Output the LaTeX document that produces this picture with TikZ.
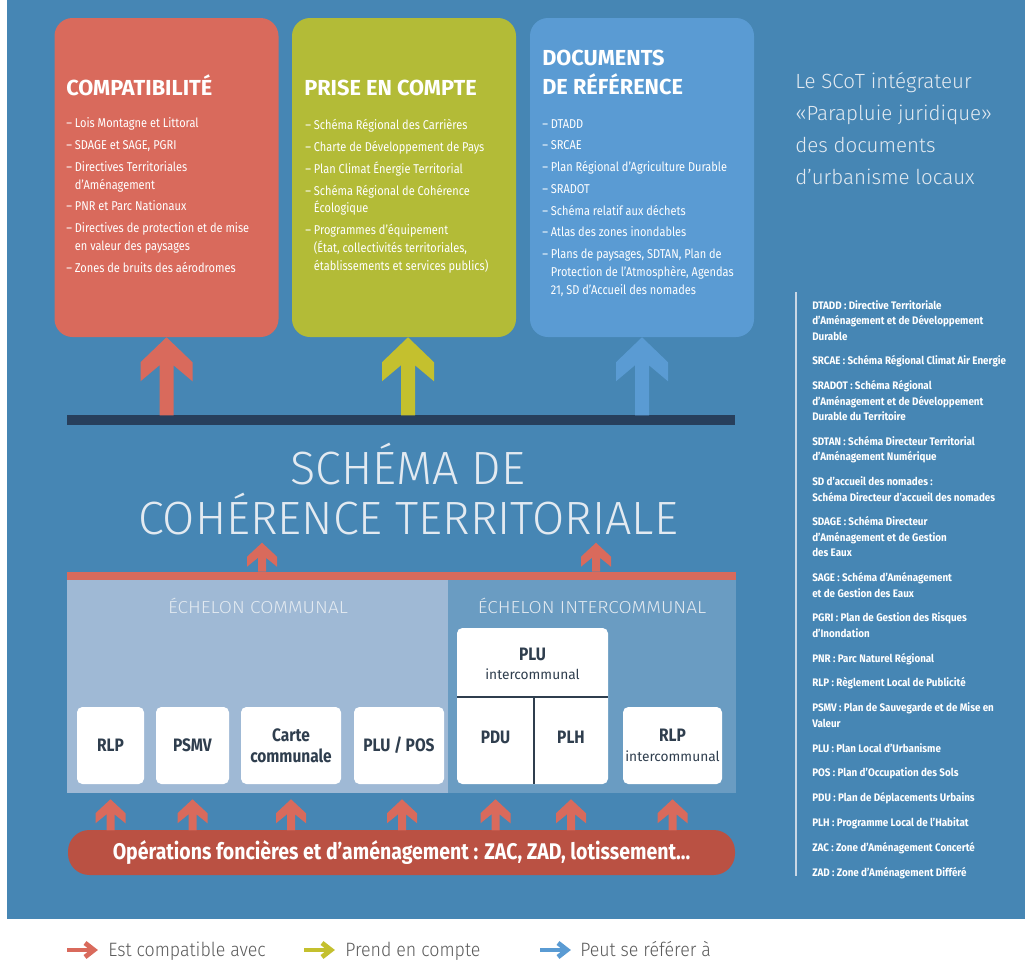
\documentclass[tikz,border=0pt]{standalone}
\usepackage{fontspec}
\setmainfont{Fira Sans}
\newfontfamily\cnd[FakeStretch=0.86]{Fira Sans}
\newfontfamily\glo[FakeStretch=0.9]{Fira Sans}
\newfontfamily\lgt{Fira Sans Light}
\newfontfamily\lgtw[FakeStretch=1.1]{Fira Sans Light}
\newfontfamily\legf[FakeStretch=0.92]{Fira Sans Light}
\newcommand\subtxt{\normalfont\fontsize{10.3pt}{12pt}\selectfont}
\usetikzlibrary{calc}
\definecolor{bgc}{HTML}{4686B4}
\definecolor{redc}{HTML}{D96A5C}
\definecolor{greenc}{HTML}{B3BB37}
\definecolor{bluec}{HTML}{5A9BD3}
\definecolor{garrow}{HTML}{C4C02E}
\definecolor{barc}{HTML}{273F5C}
\definecolor{comc}{HTML}{9FB9D5}
\definecolor{intc}{HTML}{6A9CC2}
\definecolor{opsc}{HTML}{BA5143}
\definecolor{labc}{HTML}{2F3E4E}
\definecolor{palec}{HTML}{E3EAF1}
\definecolor{legc}{HTML}{5A5A5A}
\definecolor{linec}{HTML}{C9D7E5}
\def\pxu{0.75pt}
\tikzset{
  topbox/.style={fill=#1, rounded corners=13.5pt, inner sep=0pt, minimum width=224*\pxu, minimum height=319*\pxu},
  ttl/.style={anchor=base west, text=white, font=\bfseries\fontsize{16.3pt}{21.75pt}\selectfont, inner sep=0pt, align=left},
  bul/.style={anchor=base west, text=white, font=\cnd\fontsize{9.6pt}{13.3pt}\selectfont, inner sep=0pt, align=left},
  band/.style={inner sep=0pt, minimum height=#1*\pxu},
  ech/.style={anchor=base, text=palec, font=\lgtw\fontsize{13pt}{15pt}\selectfont, inner sep=0pt},
  wbox/.style={fill=white, rounded corners=4pt, inner sep=0pt, minimum height=77*\pxu, minimum width=#1*\pxu, text=labc, align=center, font=\cnd\bfseries\fontsize{13.5pt}{15.75pt}\selectfont},
  wlab/.style={text=labc, align=center, inner sep=0pt, font=\cnd\bfseries\fontsize{13.5pt}{15.75pt}\selectfont},
  divline/.style={draw=labc, line width=0.9pt},
  leg/.style={anchor=base west, text=legc, font=\legf\fontsize{14.5pt}{16pt}\selectfont, inner sep=0pt},
  pics/bigarr/.style={code={\fill[pic actions] (0,0) -- (-26,25) -- (-26,44) -- (-7,28) -- (-7,#1) -- (7,#1) -- (7,28) -- (26,44) -- (26,25) -- cycle;}},
  pics/smallarr/.style={code={\fill[pic actions] (0,0) -- (-15,14) -- (-15,24) -- (-4,15) -- (-4,#1) -- (4,#1) -- (4,15) -- (15,24) -- (15,14) -- cycle;}},
  pics/legarr/.style={code={\draw[pic actions, line width=3.6pt] (0,0) -- (27,0); \draw[pic actions, line width=3.6pt, miter limit=10] (18,-7) -- (27,0) -- (18,7);}},
}
\begin{document}
\begin{tikzpicture}[x=0.75pt,y=-0.75pt]
\useasboundingbox (0,0) rectangle (1025,960);
\fill[white] (0,0) rectangle (1025,960);
\fill[bgc] (7,0) rectangle (1025,919);

% ---- top boxes
\node[topbox=redc] (comp) at (166.5,177.5) {};
\node[topbox=greenc] (prise) at (404,177.5) {};
\node[topbox=bluec] (docs) at (642,177.5) {};

\node[ttl] (compT) at (66,95) {COMPATIBILITÉ};
\node[bul] (compL) at (66,272) {– Lois Montagne et Littoral\\[3pt]
– SDAGE et SAGE, PGRI\\[3pt]
– Directives Territoriales\\
\hphantom{–}\ d’Aménagement\\[3pt]
– PNR et Parc Nationaux\\[3pt]
– Directives de protection et de mise\\
\hphantom{–}\ en valeur des paysages\\[3pt]
– Zones de bruits des aérodromes};

\node[ttl] (priseT) at (304,95) {PRISE EN COMPTE};
\node[bul] (priseL) at (305,270) {– Schéma Régional des Carrières\\[3pt]
– Charte de Développement de Pays\\[3pt]
– Plan Climat Énergie Territorial\\[3pt]
– Schéma Régional de Cohérence\\
\hphantom{–}\ Écologique\\[3pt]
– Programmes d’équipement\\
\hphantom{–}\ (État, collectivités territoriales,\\
\hphantom{–}\ établissements et services publics)};

\node[ttl] (docsT) at (542,94) {DOCUMENTS\\DE RÉFÉRENCE};
\node[bul] (docsL) at (542,294) {– DTADD\\[3pt]
– SRCAE\\[3pt]
– Plan Régional d’Agriculture Durable\\[3pt]
– SRADOT\\[3pt]
– Schéma relatif aux déchets\\[3pt]
– Atlas des zones inondables\\[3pt]
– Plans de paysages, SDTAN, Plan de\\
\hphantom{–}\ Protection de l’Atmosphère, Agendas\\
\hphantom{–}\ 21, SD d’Accueil des nomades};

% ---- dark bar and arrows to the boxes
\node[band=10, fill=barc, minimum width=668*\pxu] (bar) at (401,420) {};
\pic[fill=redc] at (comp.south) {bigarr=78};
\pic[fill=garrow] at ($(prise.south)+(4,0)$) {bigarr=78};
\pic[fill=bluec] at (docs.south) {bigarr=78};

% ---- SCoT title
\node[text=palec, align=center, inner sep=0pt, font=\lgt\fontsize{35pt}{37.5pt}\selectfont] (scot) at (408,489) {SCHÉMA DE\\COHÉRENCE TERRITORIALE};

% ---- echelons
\node[band=8, fill=redc, minimum width=669*\pxu] (rbar) at (401.5,576) {};
\node[band=213, fill=comc, minimum width=381*\pxu] (com) at (257.5,686.5) {};
\node[band=213, fill=intc, minimum width=288*\pxu] (inter) at (592,686.5) {};
\pic[fill=redc] at ($(rbar.north)+(-139.5,-29)$) {smallarr=29};
\pic[fill=redc] at ($(rbar.north)+(194.5,-29)$) {smallarr=29};
\node[ech] (comT) at (258,613) {ÉCHELON COMMUNAL};
\node[ech] (interT) at (592,613) {ÉCHELON INTERCOMMUNAL};

\node[wbox=67] (rlp) at (110.5,745.5) {RLP};
\node[wbox=73] (psmv) at (192.5,745.5) {PSMV};
\node[wbox=100] (carte) at (291,745.5) {Carte\\communale};
\node[wbox=90] (plupos) at (399,745.5) {PLU / POS};
\node[wbox=151, minimum height=156*\pxu] (plugrp) at (532.5,706) {};
\node[wlab] (plui) at (532.5,664) {PLU\\[-1pt]{\subtxt intercommunal}};
\node[wlab] (pdu) at (495.5,737) {PDU};
\node[wlab] (plh) at (571,737) {PLH};
\coordinate (hl) at (457,697);
\coordinate (hr) at (608,697);
\coordinate (vt) at (534,697);
\coordinate (vb) at (534,784);
\draw[divline] (hl) -- (hr);
\draw[divline] (vt) -- (vb);
\node[wbox=99] (rlpi) at (672.5,745.5) {RLP\\[-1pt]{\subtxt intercommunal}};

% ---- operations
\node[fill=opsc, rounded corners=16pt, minimum width=667*\pxu, minimum height=45*\pxu, inner sep=0pt, text=white, font=\cnd\bfseries\fontsize{17pt}{18pt}\selectfont] (ops) at (401.5,852.5) {Opérations foncières et d’aménagement : ZAC, ZAD, lotissement...};
\foreach \b in {rlp,psmv,carte,pdu,plh,rlpi}{
  \pic[fill=redc] at ($(\b.south |- com.south)+(0,6)$) {smallarr=31};
}
\pic[fill=redc] at ($(plupos.south |- com.south)+(3,6)$) {smallarr=31};

% ---- right text
\node[anchor=base west, text=palec, align=left, inner sep=0pt, font=\lgt\fontsize{15.4pt}{24pt}\selectfont] (scotint) at (795,184) {Le SCoT intégrateur\\«Parapluie juridique»\\des documents\\d’urbanisme locaux};

% ---- glossary
\coordinate (gtop) at (796,292);
\coordinate (gbot) at (796,876);
\draw[linec, line width=1.2pt] (gtop) -- (gbot);
\node[anchor=base west, text=white, align=left, inner sep=0pt, font=\glo\bfseries\fontsize{8.2pt}{11.6pt}\selectfont] (gloss) at (812,876) {DTADD : Directive Territoriale\\
d’Aménagement et de Développement\\
Durable\\[7pt]
SRCAE : Schéma Régional Climat Air Energie\\[7pt]
SRADOT : Schéma Régional\\
d’Aménagement et de Développement\\
Durable du Territoire\\[7pt]
SDTAN : Schéma Directeur Territorial\\
d’Aménagement Numérique\\[7pt]
SD d’accueil des nomades :\\
Schéma Directeur d’accueil des nomades\\[7pt]
SDAGE : Schéma Directeur\\
d’Aménagement et de Gestion\\
des Eaux\\[7pt]
SAGE : Schéma d’Aménagement\\
et de Gestion des Eaux\\[7pt]
PGRI : Plan de Gestion des Risques\\
d’Inondation\\[7pt]
PNR : Parc Naturel Régional\\[7pt]
RLP : Règlement Local de Publicité\\[7pt]
PSMV : Plan de Sauvegarde et de Mise en\\
Valeur\\[7pt]
PLU : Plan Local d’Urbanisme\\[7pt]
POS : Plan d’Occupation des Sols\\[7pt]
PDU : Plan de Déplacements Urbains\\[7pt]
PLH : Programme Local de l’Habitat\\[7pt]
ZAC : Zone d’Aménagement Concerté\\[7pt]
ZAD : Zone d’Aménagement Différé};

% ---- legend
\node[leg] (leg1) at (108,956) {Est compatible avec};
\node[leg] (leg2) at (345,956) {Prend en compte};
\node[leg] (leg3) at (580,956) {Peut se référer à};
\pic[draw=redc] at ($(leg1.base west)+(-41,-6)$) {legarr};
\pic[draw=garrow] at ($(leg2.base west)+(-41,-6)$) {legarr};
\pic[draw=bluec] at ($(leg3.base west)+(-40,-6)$) {legarr};
\end{tikzpicture}
\end{document}
